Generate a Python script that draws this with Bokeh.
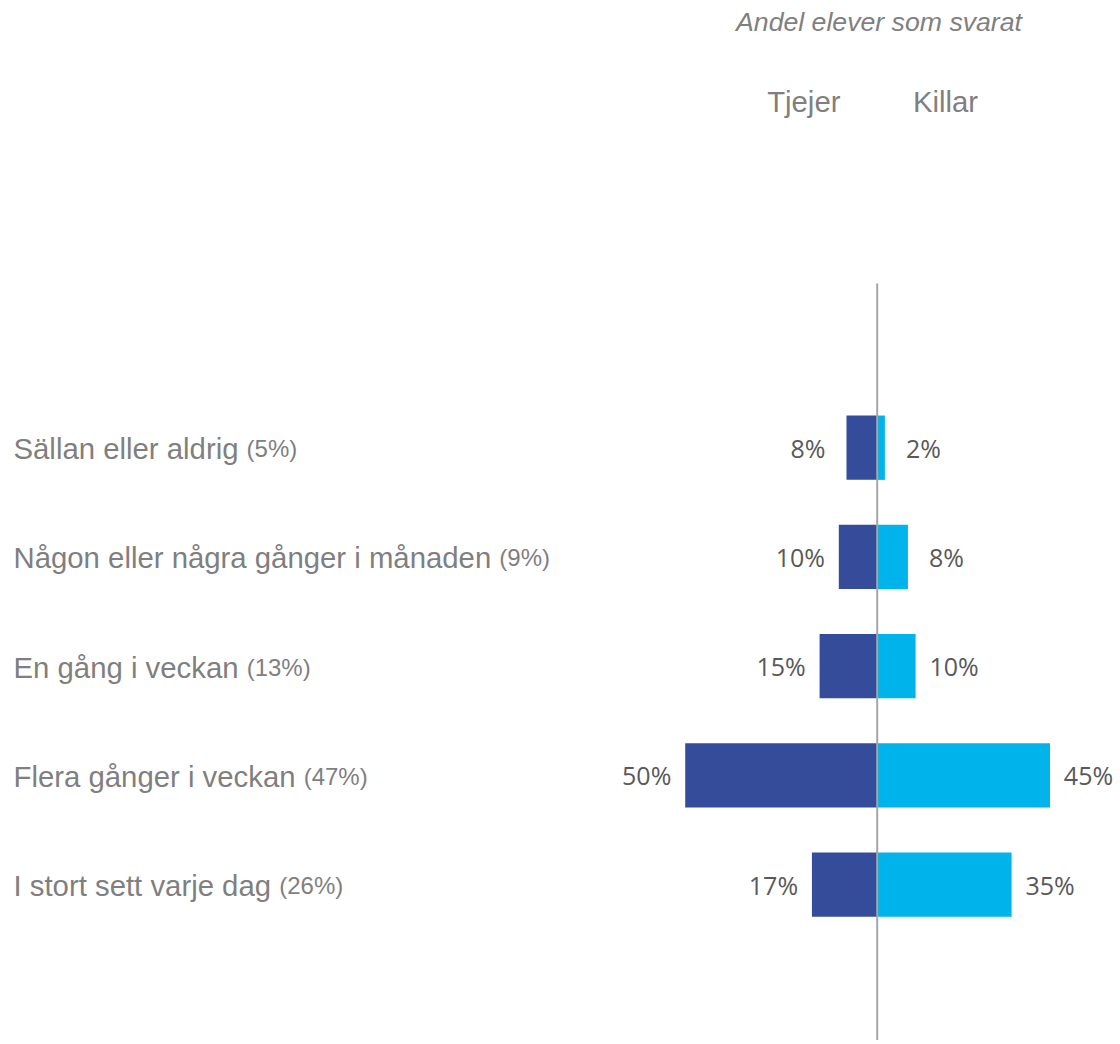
from bokeh.plotting import figure
from bokeh.models import Range1d, Label, ColumnDataSource
from bokeh.core.properties import value
from bokeh.embed import file_html
from bokeh.resources import INLINE

# ---- data ----
categories = ["Sällan eller aldrig", "Någon eller några gånger i månaden",
              "En gång i veckan", "Flera gånger i veckan", "I stort sett varje dag"]
totals = ["(5%)", "(9%)", "(13%)", "(47%)", "(26%)"]
tjejer = [8, 10, 15, 50, 17]
killar = [2, 8, 10, 45, 35]
series_names = ["Tjejer", "Killar"]
header = "Andel elever som svarat"

# ---- layout constants ----
W, H = 1116, 1040
CX = 876.7          # pixel x of the zero line
PX_PER_PCT = 3.84
ROW0 = 447.2        # pixel y of first row center
ROW_STEP = 109.25
BAR_H = 0.589
DARK = "#344C9A"
LIGHT = "#00B3EA"
GREY = "#7F7F7F"
VAL = "#595959"
SHIFT = 9.5         # baseline correction

# Arial / Liberation Sans advance widths (per 1000 em)
AW = {' ': 278, '(': 333, ')': 333, '%': 889, 'S': 667, 'N': 722, 'E': 667, 'F': 611,
      'I': 278, 'a': 556, 'c': 500, 'd': 556, 'e': 556, 'g': 556, 'i': 222, 'j': 222,
      'k': 500, 'l': 222, 'm': 833, 'n': 556, 'o': 556, 'r': 333, 's': 500, 't': 278,
      'v': 500, 'ä': 556, 'å': 556}
for d in "0123456789":
    AW[d] = 556


def text_w(s, size):
    return sum(AW.get(c, 556) for c in s) * size / 1000.0


x_range = Range1d(-CX / PX_PER_PCT, (W - CX) / PX_PER_PCT)
y_range = Range1d((H - ROW0) / ROW_STEP, -ROW0 / ROW_STEP)

p = figure(width=W, height=H, x_range=x_range, y_range=y_range,
           output_backend="svg", toolbar_location=None,
           x_axis_location=None, y_axis_location=None,
           min_border=0, outline_line_color=None)
p.xgrid.visible = False
p.ygrid.visible = False
p.background_fill_color = "white"
p.border_fill_color = "white"

LABEL_X = 13
idx = list(range(len(categories)))
src = ColumnDataSource(dict(
    y=idx,
    gl=[-v for v in tjejer],
    kr=killar,
    zero=[0] * len(idx),
    glab=[f"{v}%" for v in tjejer],
    klab=[f"{v}%" for v in killar],
    cat=categories,
    tot=totals,
    lx=[x_range.start] * len(idx),
    tot_off=[LABEL_X + text_w(c + " ", 29.33) for c in categories],
))

p.hbar(y="y", left="gl", right="zero", height=BAR_H, source=src,
       fill_color=DARK, line_color=None)
p.hbar(y="y", left="zero", right="kr", height=BAR_H, source=src,
       fill_color=LIGHT, line_color=None)

# zero line (category axis)
axis_top = (283 - ROW0) / ROW_STEP
p.segment(x0=[0], y0=[axis_top], x1=[0], y1=[y_range.start],
          line_color="#A6A6A6", line_width=2)

# value labels
p.text(x="gl", y="y", text="glab", source=src, x_offset=-38.5, y_offset=9.5 - SHIFT,
       text_align="center", text_baseline="alphabetic",
       text_font=value("Open Sans"), text_font_size="25px", text_color=VAL)
p.text(x="kr", y="y", text="klab", source=src, x_offset=38.5, y_offset=9.5 - SHIFT,
       text_align="center", text_baseline="alphabetic",
       text_font=value("Open Sans"), text_font_size="25px", text_color=VAL)

# category labels
p.text(x="lx", y="y", text="cat", source=src, x_offset=LABEL_X, y_offset=10.4 - SHIFT,
       text_align="left", text_baseline="alphabetic",
       text_font=value("Liberation Sans"), text_font_size="29.33px", text_color=GREY)
p.text(x="lx", y="y", text="tot", source=src, x_offset="tot_off", y_offset=10.4 - SHIFT,
       text_align="left", text_baseline="alphabetic",
       text_font=value("Liberation Sans"), text_font_size="24px", text_color=GREY)

# headers
p.add_layout(Label(x=878.5, y=H - 31 + SHIFT, x_units="screen", y_units="screen",
                   text=header, text_align="center", text_baseline="alphabetic",
                   text_font="Liberation Sans", text_font_style="italic",
                   text_font_size="26.67px", text_color=GREY))
p.add_layout(Label(x=803.3, y=H - 110 + SHIFT, x_units="screen", y_units="screen",
                   text=series_names[0], text_align="center", text_baseline="alphabetic",
                   text_font="Liberation Sans", text_font_size="29.33px", text_color=GREY))
p.add_layout(Label(x=945.0, y=H - 110 + SHIFT, x_units="screen", y_units="screen",
                   text=series_names[1], text_align="center", text_baseline="alphabetic",
                   text_font="Liberation Sans", text_font_size="29.33px", text_color=GREY))

open("out.html", "w").write(file_html(p, INLINE))
